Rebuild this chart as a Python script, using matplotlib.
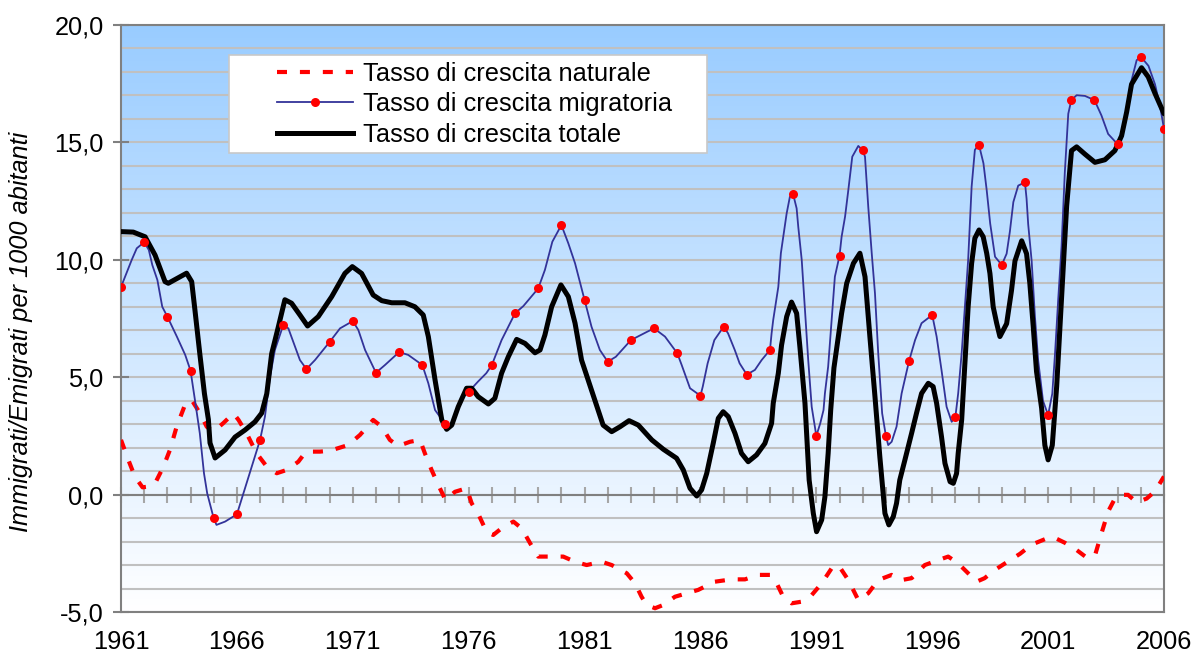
import matplotlib
matplotlib.use('Agg')
import matplotlib.pyplot as plt
import numpy as np
from matplotlib.colors import LinearSegmentedColormap
from matplotlib.lines import Line2D
from matplotlib.patches import Rectangle
from matplotlib.ticker import MultipleLocator, FuncFormatter

plt.rcParams['font.family'] = ['Liberation Sans', 'DejaVu Sans']

# annual values of the migration rate (red dots)
years = list(range(1961, 2007))
migr_dots = [8.84, 10.75, 7.58, 5.28, -1.01, -0.84, 2.33, 7.22, 5.35, 6.5,
             7.39, 5.19, 6.07, 5.52, 2.99, 4.38, 5.52, 7.72, 8.78, 11.48,
             8.29, 5.66, 6.58, 7.08, 6.02, 4.21, 7.15, 5.11, 6.16, 12.79,
             2.5, 10.17, 14.66, 2.51, 5.69, 7.65, 3.32, 14.9, 9.78, 13.3,
             3.39, 16.8, 16.8, 14.92, 18.65, 15.58]

# traced curve of the migration rate
migr_x = [1961.0, 1961.46, 1961.68, 1962.0, 1962.2, 1962.35, 1962.57, 1962.78, 1963.0, 1963.41,
          1963.77, 1964.0, 1964.19, 1964.4, 1964.58, 1964.72, 1964.91, 1965.0, 1965.12, 1965.49,
          1966.0, 1966.28, 1966.64, 1967.0, 1967.21, 1967.43, 1967.64, 1968.0, 1968.22, 1968.51,
          1968.72, 1969.0, 1969.37, 1970.0, 1970.45, 1971.0, 1971.24, 1971.53, 1972.0, 1972.39,
          1973.0, 1973.39, 1974.0, 1974.26, 1974.55, 1975.0, 1975.19, 1975.48, 1975.77, 1976.0,
          1976.4, 1976.76, 1977.0, 1977.42, 1978.0, 1978.36, 1979.0, 1979.29, 1979.61, 1980.0,
          1980.3, 1980.59, 1981.0, 1981.3, 1981.66, 1982.0, 1982.35, 1983.0, 1983.71, 1984.0,
          1984.47, 1985.0, 1985.19, 1985.55, 1986.0, 1986.1, 1986.31, 1986.6, 1987.0, 1987.19,
          1987.48, 1987.69, 1988.0, 1988.35, 1988.64, 1989.0, 1989.07, 1989.14, 1989.36, 1989.47,
          1989.72, 1989.86, 1990.0, 1990.15, 1990.22, 1990.37, 1990.51, 1990.65, 1990.8, 1991.0,
          1991.17, 1991.31, 1991.37, 1991.51, 1991.66, 1991.8, 1992.0, 1992.09, 1992.24, 1992.38,
          1992.55, 1992.81, 1993.0, 1993.1, 1993.24, 1993.39, 1993.53, 1993.67, 1993.84, 1994.0,
          1994.1, 1994.25, 1994.46, 1994.68, 1995.0, 1995.26, 1995.54, 1996.0, 1996.19, 1996.4,
          1996.62, 1996.84, 1997.0, 1997.12, 1997.27, 1997.41, 1997.55, 1997.7, 1997.84, 1998.0,
          1998.07, 1998.21, 1998.35, 1998.5, 1998.71, 1999.0, 1999.21, 1999.35, 1999.5, 1999.71,
          2000.0, 2000.07, 2000.14, 2000.29, 2000.43, 2000.57, 2000.78, 2001.0, 2001.18, 2001.3,
          2001.44, 2001.58, 2001.72, 2001.87, 2002.0, 2002.23, 2002.59, 2003.0, 2003.3, 2003.59,
          2004.0, 2004.17, 2004.39, 2004.6, 2004.82, 2005.0, 2005.33, 2005.61, 2005.83, 2006.0]
migr_y = [8.84, 9.99, 10.49, 10.75, 10.42, 9.78, 9.14, 8.0, 7.58, 6.73,
          5.95, 5.28, 4.03, 2.61, 0.91, 0.05, -0.66, -1.01, -1.29, -1.15,
          -0.84, 0.05, 1.19, 2.33, 3.32, 5.02, 6.16, 7.22, 7.08, 6.3,
          5.73, 5.35, 5.73, 6.5, 7.08, 7.39, 7.01, 6.16, 5.19, 5.52,
          6.07, 5.95, 5.52, 4.74, 3.6, 2.99, 2.89, 3.46, 4.17, 4.38,
          4.81, 5.17, 5.52, 6.58, 7.72, 8.03, 8.78, 9.57, 10.77, 11.48,
          10.7, 9.85, 8.29, 7.15, 6.16, 5.66, 5.87, 6.58, 6.94, 7.08,
          6.73, 6.02, 5.52, 4.53, 4.21, 4.6, 5.59, 6.58, 7.15, 6.87,
          6.16, 5.59, 5.11, 5.31, 5.73, 6.16, 6.87, 7.44, 8.85, 10.28,
          11.98, 12.69, 12.79, 12.19, 11.41, 9.99, 7.86, 5.73, 3.74, 2.5,
          3.04, 3.6, 4.31, 5.45, 7.44, 9.28, 10.17, 10.98, 11.84, 12.97,
          14.39, 14.85, 14.66, 14.39, 12.26, 10.28, 8.57, 6.02, 3.46, 2.51,
          2.11, 2.25, 2.89, 4.31, 5.69, 6.58, 7.3, 7.65, 6.73, 5.31,
          3.74, 3.1, 3.32, 4.31, 6.02, 8.0, 9.99, 13.11, 14.68, 14.9,
          14.68, 14.11, 12.97, 11.55, 10.13, 9.78, 10.26, 11.2, 12.46, 13.16,
          13.3, 12.61, 11.52, 9.95, 7.6, 5.72, 3.99, 3.39, 4.3, 6.03,
          8.38, 10.57, 13.71, 16.22, 16.8, 17.01, 16.98, 16.8, 16.15, 15.36,
          14.92, 15.28, 16.38, 17.64, 18.5, 18.65, 18.26, 17.48, 16.54, 15.58]

# traced curve of the total rate
total_x = [1961.0, 1961.53, 1962.04, 1962.47, 1962.9, 1963.04, 1963.83, 1964.05, 1964.19, 1964.4,
           1964.6, 1964.77, 1964.84, 1965.06, 1965.49, 1965.92, 1966.35, 1966.78, 1967.07, 1967.29,
           1967.5, 1967.79, 1968.07, 1968.36, 1968.72, 1969.05, 1969.51, 1970.09, 1970.66, 1970.98,
           1971.38, 1971.88, 1972.25, 1972.68, 1973.25, 1973.68, 1974.04, 1974.26, 1974.55, 1974.84,
           1975.05, 1975.27, 1975.55, 1975.91, 1976.13, 1976.41, 1976.85, 1977.13, 1977.42, 1977.71,
           1978.07, 1978.43, 1978.86, 1979.08, 1979.29, 1979.58, 1979.98, 1980.3, 1980.59, 1980.87,
           1981.3, 1981.8, 1982.17, 1982.53, 1982.92, 1983.32, 1983.9, 1984.4, 1984.97, 1985.26,
           1985.55, 1985.84, 1986.05, 1986.27, 1986.55, 1986.77, 1986.98, 1987.2, 1987.49, 1987.77,
           1988.06, 1988.42, 1988.78, 1989.07, 1989.14, 1989.36, 1989.5, 1989.72, 1989.93, 1990.15,
           1990.29, 1990.51, 1990.69, 1990.87, 1991.01, 1991.23, 1991.37, 1991.51, 1991.62, 1991.76,
           1992.09, 1992.31, 1992.6, 1992.88, 1993.1, 1993.31, 1993.53, 1993.74, 1993.96, 1994.13,
           1994.32, 1994.46, 1994.6, 1994.82, 1995.11, 1995.32, 1995.54, 1995.83, 1996.04, 1996.19,
           1996.4, 1996.55, 1996.77, 1996.91, 1997.05, 1997.12, 1997.27, 1997.41, 1997.55, 1997.7,
           1997.84, 1998.02, 1998.2, 1998.35, 1998.49, 1998.63, 1998.78, 1998.92, 1999.21, 1999.42,
           1999.57, 1999.86, 2000.07, 2000.21, 2000.36, 2000.5, 2000.72, 2000.86, 2001.0, 2001.18,
           2001.37, 2001.58, 2001.8, 2002.01, 2002.23, 2002.59, 2003.02, 2003.45, 2003.88, 2004.17,
           2004.39, 2004.6, 2005.03, 2005.32, 2005.61, 2006.0]
total_y = [11.2, 11.18, 10.98, 10.2, 9.07, 9.0, 9.43, 9.07, 7.86, 6.0,
           4.3, 3.2, 2.2, 1.56, 1.9, 2.45, 2.75, 3.1, 3.47, 4.3,
           6.0, 7.15, 8.3, 8.15, 7.65, 7.18, 7.58, 8.43, 9.42, 9.71,
           9.42, 8.5, 8.26, 8.17, 8.17, 8.0, 7.65, 6.73, 4.88, 3.18,
           2.78, 2.96, 3.74, 4.53, 4.53, 4.17, 3.86, 4.1, 5.17, 5.87,
           6.61, 6.44, 6.04, 6.16, 6.8, 8.0, 8.93, 8.43, 7.3, 5.73,
           4.45, 2.96, 2.68, 2.89, 3.15, 2.96, 2.33, 1.93, 1.55, 1.05,
           0.27, -0.06, 0.2, 0.9, 2.18, 3.25, 3.53, 3.32, 2.61, 1.76,
           1.4, 1.69, 2.18, 3.04, 3.89, 5.17, 6.37, 7.58, 8.2, 7.72,
           6.3, 3.89, 0.62, -0.8, -1.58, -1.08, -0.09, 1.76, 3.6, 5.4,
           7.72, 9.0, 9.85, 10.28, 9.28, 6.73, 4.17, 1.61, -0.8, -1.29,
           -0.94, -0.37, 0.62, 1.47, 2.61, 3.46, 4.31, 4.74, 4.6, 3.89,
           2.47, 1.33, 0.55, 0.48, 0.9, 1.76, 3.18, 5.59, 8.0, 9.85,
           10.92, 11.27, 10.98, 10.28, 9.42, 8.0, 7.3, 6.73, 7.28, 8.69,
           9.95, 10.81, 10.26, 9.01, 7.13, 5.24, 3.68, 2.1, 1.48, 2.1,
           4.62, 8.38, 12.3, 14.65, 14.81, 14.5, 14.15, 14.26, 14.65, 15.28,
           16.3, 17.48, 18.18, 17.79, 17.09, 16.22]

# traced curve of the natural rate
nat_x = [1961.0, 1961.32, 1961.6, 1961.93, 1962.17, 1962.47, 1962.83, 1963.11, 1963.4, 1963.76,
         1964.05, 1964.41, 1964.7, 1964.98, 1965.41, 1965.85, 1966.07, 1966.42, 1966.85, 1967.29,
         1967.72, 1968.15, 1968.65, 1968.98, 1969.58, 1970.02, 1970.8, 1971.31, 1971.88, 1972.25,
         1972.6, 1972.96, 1973.47, 1973.9, 1974.11, 1974.4, 1974.69, 1975.0, 1975.41, 1975.91,
         1976.13, 1976.45, 1976.77, 1977.06, 1977.5, 1977.93, 1978.29, 1978.65, 1979.0, 1979.58,
         1980.08, 1980.59, 1981.09, 1981.74, 1982.17, 1982.82, 1983.18, 1983.46, 1983.68, 1984.04,
         1984.4, 1984.9, 1985.9, 1986.62, 1987.34, 1987.92, 1988.5, 1989.0, 1989.29, 1989.57,
         1989.93, 1990.37, 1990.8, 1991.23, 1991.66, 1991.95, 1992.38, 1992.81, 1993.24, 1993.67,
         1994.25, 1994.68, 1995.11, 1995.68, 1996.26, 1996.69, 1997.12, 1997.55, 1997.91, 1998.26,
         1998.7, 1999.14, 1999.79, 2000.29, 2000.86, 2001.22, 2001.72, 2002.23, 2002.66, 2003.02,
         2003.3, 2003.59, 2003.88, 2004.1, 2004.45, 2004.82, 2005.25, 2005.61, 2006.0]
nat_y = [2.33, 1.47, 0.76, 0.31, 0.34, 0.48, 1.19, 1.9, 2.89, 3.82,
         4.03, 3.46, 2.89, 2.68, 3.04, 3.46, 3.18, 2.61, 1.76, 1.19,
         0.91, 1.05, 1.4, 1.83, 1.83, 1.87, 2.11, 2.54, 3.18, 2.89,
         2.33, 2.07, 2.25, 2.33, 1.76, 1.05, 0.41, -0.23, 0.12, 0.27,
         -0.37, -0.9, -1.58, -1.72, -1.37, -1.15, -1.44, -2.07, -2.64, -2.64,
         -2.64, -2.86, -3.0, -2.86, -3.0, -3.35, -3.78, -4.35, -4.7, -4.84,
         -4.7, -4.35, -4.06, -3.71, -3.61, -3.61, -3.42, -3.42, -3.78, -4.35,
         -4.63, -4.56, -4.28, -3.78, -3.14, -3.0, -3.64, -4.49, -4.2, -3.64,
         -3.42, -3.64, -3.56, -3.0, -2.79, -2.64, -2.93, -3.35, -3.71, -3.56,
         -3.21, -2.93, -2.52, -2.13, -1.9, -1.81, -2.05, -2.36, -2.68, -2.6,
         -1.66, -0.72, -0.17, -0.01, -0.01, -0.33, -0.17, 0.14, 0.77]

labels = ['Tasso di crescita naturale', 'Tasso di crescita migratoria', 'Tasso di crescita totale']
fs = 18.3

fig = plt.figure(figsize=(11.92, 6.59), dpi=100)
ax = fig.add_axes([121 / 1192, 1 - 612 / 659, 1043 / 1192, 587 / 659])

# blue-to-white background
bg = LinearSegmentedColormap.from_list('bg', ['#FFFFFF', '#99CCFF'])
ax.imshow(np.linspace(0, 1, 256).reshape(-1, 1), extent=[1961, 2006, -5, 20],
          origin='lower', aspect='auto', cmap=bg, zorder=0)

ax.plot(nat_x, nat_y, color='#FF0000', lw=3, dashes=(2.4, 3.1), zorder=3)
ax.plot(migr_x, migr_y, color='#333399', lw=1.3, zorder=4)
ax.plot(total_x, total_y, color='black', lw=3.6, solid_capstyle='round', zorder=4.5)
ax.plot(years, migr_dots, 'o', color='#FF0000', ms=6.5, mec='none', zorder=5)

ax.set_xlim(1961, 2006)
ax.set_ylim(-5, 20)
ax.set_axisbelow(True)

ax.set_xticks(range(1961, 2007, 5))
ax.tick_params(axis='x', length=0, pad=13, labelsize=fs)
ax.set_yticks(range(-5, 21, 5))
ax.yaxis.set_major_formatter(FuncFormatter(lambda v, p: f'{v:.1f}'.replace('.', ',')))
ax.yaxis.set_minor_locator(MultipleLocator(1))
ax.tick_params(axis='y', direction='inout', length=11, width=1.5, color='#808080', pad=7, labelsize=fs)
ax.tick_params(axis='y', which='minor', length=0)
ax.grid(axis='y', which='both', color='#C0C0C0', lw=1.5)
for s in ax.spines.values():
    s.set_color('#808080')
    s.set_linewidth(1.5)

# category axis crossing at zero, yearly ticks
sec = ax.secondary_xaxis((0 + 5) / 25)
sec.set_xticks(years)
sec.tick_params(direction='inout', length=11, width=1.5, color='#A6A6A6', labelbottom=False)
sec.spines['bottom'].set_color('#808080')
sec.spines['bottom'].set_linewidth(1.5)
sec.set_zorder(1)

ax.set_ylabel('Immigrati/Emigrati per 1000 abitanti', fontsize=fs, style='italic')
ax.yaxis.set_label_coords(-0.084, 0.478)

# legend box
ax.add_patch(Rectangle((0.1035, 0.782), 0.4583, 0.167, transform=ax.transAxes,
                       facecolor='white', edgecolor='#C8C8C8', lw=1.2, zorder=6))
handles = [Line2D([], [], color='#FF0000', lw=3, dashes=(2.4, 3.1)),
           Line2D([], [], color='#333399', lw=1.3, marker='o', mfc='#FF0000', mec='none', ms=6.5),
           Line2D([], [], color='black', lw=3.6)]
leg = ax.legend(handles, labels, loc='upper left', bbox_to_anchor=(0.1496, 0.937),
                frameon=False, borderpad=0, borderaxespad=0, handlelength=3.0,
                handletextpad=0.37, labelspacing=0.25, fontsize=fs)
leg.set_zorder(7)

plt.savefig('out.png', dpi=100)
plt.close()
